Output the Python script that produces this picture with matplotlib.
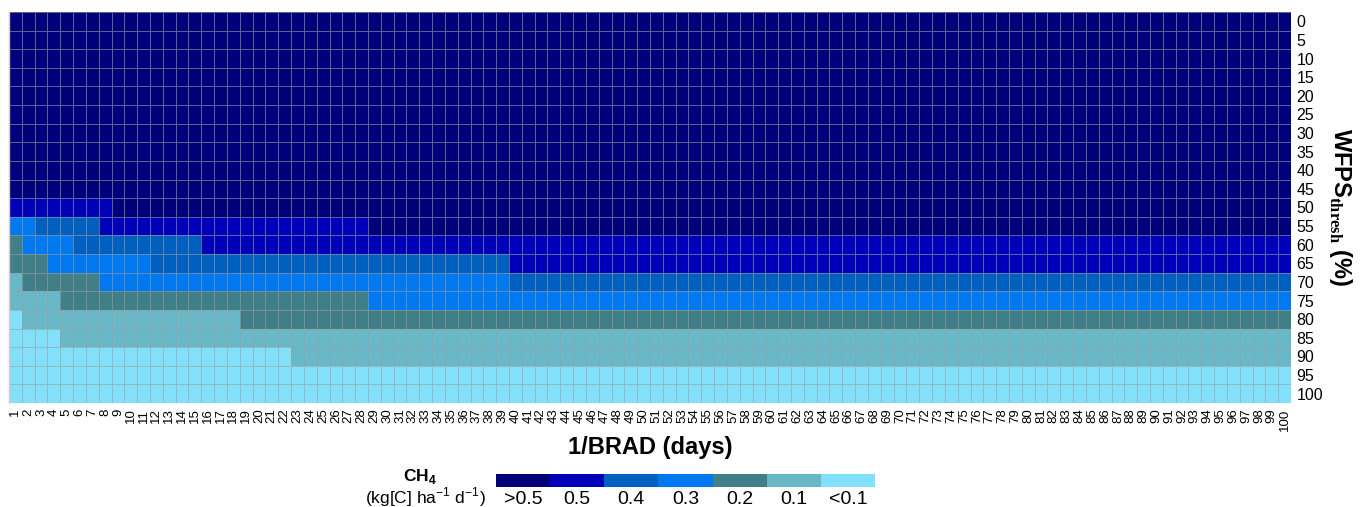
import numpy as np
import matplotlib
matplotlib.use("Agg")
import matplotlib.pyplot as plt
from matplotlib.colors import ListedColormap, BoundaryNorm

plt.rcParams['font.family'] = ['Liberation Sans', 'DejaVu Sans']
plt.rcParams['mathtext.fontset'] = 'custom'
plt.rcParams['mathtext.rm'] = 'Liberation Sans'
plt.rcParams['mathtext.bf'] = 'Liberation Sans:bold'
plt.rcParams['mathtext.sf'] = 'Liberation Serif:bold'

# axes values
brad_days = list(range(1, 101))
wfps_thresh = list(range(0, 101, 5))

# CH4 flux classes (index 0 = highest) and their colours
ch4_classes = ['>0.5', '0.5', '0.4', '0.3', '0.2', '0.1', '<0.1']
class_colors = ['#00007a', '#0000b8', '#0060c0', '#0078f0',
                '#407f88', '#68b8c8', '#82e0fa']

# class of each cell, one row per WFPS threshold, as runs of (last day, class)
ch4_runs = [
    [(100, 0)],                                  # 0
    [(100, 0)],                                  # 5
    [(100, 0)],                                  # 10
    [(100, 0)],                                  # 15
    [(100, 0)],                                  # 20
    [(100, 0)],                                  # 25
    [(100, 0)],                                  # 30
    [(100, 0)],                                  # 35
    [(100, 0)],                                  # 40
    [(100, 0)],                                  # 45
    [(8, 1), (100, 0)],                          # 50
    [(2, 3), (7, 2), (28, 1), (100, 0)],         # 55
    [(1, 4), (5, 3), (15, 2), (100, 1)],         # 60
    [(3, 4), (11, 3), (39, 2), (100, 1)],        # 65
    [(1, 5), (7, 4), (39, 3), (100, 2)],         # 70
    [(4, 5), (28, 4), (100, 3)],                 # 75
    [(1, 6), (18, 5), (100, 4)],                 # 80
    [(4, 6), (100, 5)],                          # 85
    [(22, 6), (100, 5)],                         # 90
    [(100, 6)],                                  # 95
    [(100, 6)],                                  # 100
]

grid = np.zeros((len(wfps_thresh), len(brad_days)), dtype=int)
for r, runs in enumerate(ch4_runs):
    start = 0
    for last, cls in runs:
        grid[r, start:last] = cls
        start = last

cmap = ListedColormap(class_colors)
norm = BoundaryNorm(np.arange(-0.5, len(ch4_classes) + 0.5), cmap.N)

fig = plt.figure(figsize=(13.6, 5.07), dpi=100)
ax = fig.add_axes([9 / 1360, 1 - 403 / 507, 1282 / 1360, 391 / 507])

x_edges = np.arange(len(brad_days) + 1) + 0.5
y_edges = np.arange(len(wfps_thresh) + 1) - 0.5
mesh = ax.pcolormesh(x_edges, y_edges, grid, cmap=cmap, norm=norm,
                     edgecolors=(0.62, 0.62, 0.62, 0.6), linewidth=0.7)
ax.set_xlim(x_edges[0], x_edges[-1])
ax.set_ylim(y_edges[-1], y_edges[0])

ax.set_xticks(brad_days)
ax.set_xticklabels([str(d) for d in brad_days], rotation=90, fontsize=9.5)
ax.set_yticks(range(len(wfps_thresh)))
ax.set_yticklabels([str(w) for w in wfps_thresh], fontsize=11.5)
ax.yaxis.tick_right()
ax.tick_params(axis='both', length=0, pad=4)
for side in ['top', 'bottom', 'right']:
    ax.spines[side].set_visible(False)
ax.spines['left'].set_color('#d8c8c8')
ax.spines['left'].set_linewidth(1.0)

ax.set_xlabel('1/BRAD (days)', fontsize=17, fontweight='bold', labelpad=4)
ax.yaxis.set_label_position('right')
ax.set_ylabel(r'WFPS$_{\mathsf{thresh}}$ (%)', fontsize=17, fontweight='bold',
              rotation=-90, labelpad=22)

# legend bar for the flux classes
cax = fig.add_axes([496 / 1360, 1 - 487 / 507, 379 / 1360, 13 / 507])
cb = fig.colorbar(mesh, cax=cax, orientation='horizontal',
                  ticks=range(len(ch4_classes)))
cb.set_ticklabels(ch4_classes)
cb.outline.set_visible(False)
cax.minorticks_off()
cax.tick_params(which='both', length=0, labelsize=14, pad=3)

fig.text(420 / 1360, 1 - 476 / 507, r'CH$_\mathbf{4}$', fontsize=12.5,
         fontweight='bold', ha='center', va='center')
fig.text(425 / 1360, 1 - 497 / 507, r'(kg[C] ha$^{\mathregular{-1}}$ d$^{\mathregular{-1}}$)',
         fontsize=12.5, ha='center', va='center')

fig.savefig('out.png', dpi=100)
